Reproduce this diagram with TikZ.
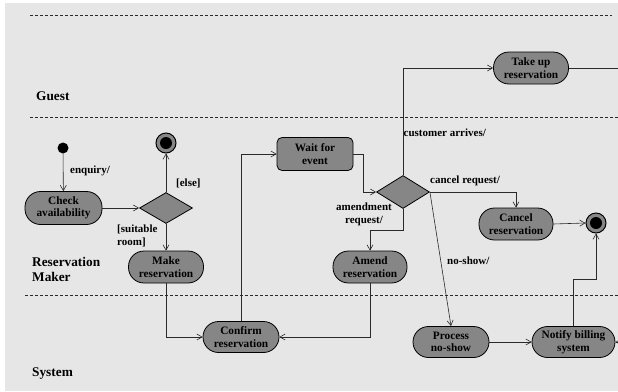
\documentclass[tikz,border=0pt]{standalone}
\usepackage{fontspec}
\setmainfont{Liberation Serif}
\usetikzlibrary{shapes.geometric,arrows.meta}
\definecolor{page}{HTML}{E6E6E6}
\definecolor{act}{HTML}{868686}
\definecolor{ink}{HTML}{2A2A2A}
\tikzset{
  activity/.style={draw=black, line width=0.8pt, fill=act, rounded corners=15.5pt,
    minimum width=75pt, minimum height=32pt, inner sep=0pt, align=center,
    font=\fontsize{11.3}{12.5}\selectfont\bfseries},
  waitbox/.style={activity, rounded corners=5pt},
  choice/.style={draw=black, line width=0.8pt, fill=act, diamond, inner sep=0pt,
    minimum width=53pt, minimum height=31pt},
  startdot/.style={circle, fill=black, minimum size=11pt, inner sep=0pt},
  enddot/.style={circle, draw=black, line width=1pt, fill=act, minimum size=20pt, inner sep=0pt,
    path picture={\fill[black] (path picture bounding box.center) circle (6pt);}},
  flow/.style={draw=ink, line width=0.6pt, -{Straight Barb[angle=60:6pt]}},
  plainflow/.style={draw=ink, line width=0.6pt},
  guard/.style={font=\fontsize{11}{13}\selectfont\bfseries, inner sep=0pt},
  lane/.style={font=\fontsize{13.3}{15}\selectfont\bfseries, inner sep=0pt, align=left, anchor=west},
  swimline/.style={draw=ink, line width=0.6pt, dash pattern=on 3pt off 2pt}
}
\begin{document}
\begin{tikzpicture}[x=1pt,y=-1pt]
  % page
  \useasboundingbox (0,0) rectangle (618,391);
  \fill[white] (0,0) rectangle (618,391);
  \fill[page] (5,3) rectangle (618,391);
  \clip (0,0) rectangle (618,391);

  % swimlane separators
  \draw[swimline] (30,15) -- (612,15);
  \draw[swimline] (30,117) -- (618,117);
  \draw[swimline] (25,295) -- (618,295);

  % swimlane names
  \node[lane] (laneguest) at (36,96) {Guest};
  \node[lane] (lanemaker) at (32,269.5) {Reservation\\Maker};
  \node[lane] (lanesystem) at (32,374) {System};

  % activities
  \node[startdot] (start) at (63,148) {};
  \node[activity, minimum width=77pt, minimum height=33pt] (check) at (63.5,208) {Check\\availability};
  \node[choice] (d1) at (166,208) {};
  \node[enddot] (fin1) at (166,143) {};
  \node[activity] (make) at (166,267) {Make\\reservation};
  \node[activity, minimum width=76pt, minimum height=31pt] (confirm) at (241,337) {Confirm\\reservation};
  \node[waitbox, minimum width=76pt, minimum height=33pt] (wait) at (315,154) {Wait for\\event};
  \node[choice, minimum height=33pt] (d2) at (403,192) {};
  \node[activity] (takeup) at (531,68) {Take up\\reservation};
  \node[activity, minimum width=74pt] (cancel) at (516,224) {Cancel\\reservation};
  \node[enddot] (fin2) at (596,223) {};
  \node[activity, minimum width=74pt] (amend) at (370,267) {Amend\\reservation};
  \node[activity, minimum width=76pt, minimum height=31pt] (process) at (451,342) {Process\\no-show};
  \node[activity, minimum width=83pt, minimum height=31pt] (notify) at (573.5,342) {Notify billing\\system};

  % connectors running off the page
  \coordinate (offtop) at (630,68);
  \coordinate (offbottom) at (630,342);

  % flows
  \draw[flow] (start) -- (check);
  \draw[flow] (check) -- (d1.west);
  \draw[flow] (d1.north) -- (fin1);
  \draw[flow] (d1.south) -- (make.north);
  \draw[flow] (make.south) |- (confirm.west);
  \draw[flow] (confirm.north) |- (wait.west);
  \draw[flow] (wait.east) -- ++(10,0) |- (d2.west);
  \draw[flow] (d2.north) |- (takeup.west);
  \draw[plainflow] (takeup.east) -- (offtop);
  \draw[flow] (d2.east) -| (cancel.north);
  \draw[flow] (cancel.east) -- (fin2.west);
  \draw[flow] (d2.south) -- ++(0,21) -| (amend.north);
  \draw[flow] (amend.south) |- (confirm.east);
  \draw[flow] (d2.east) -- (process.north);
  \draw[flow] (process.east) -- (notify.west);
  \draw[flow] (notify.north) -- ++(0,-47) -| (fin2.south);
  \draw[flow] (offbottom) -- (notify.east);

  % guards and events
  \node[guard, anchor=west] (genq) at (70,171) {enquiry/};
  \node[guard, anchor=west] (gelse) at (176,183) {[else]};
  \node[guard, anchor=west, align=left] (gsuit) at (117,236) {[suitable\\room]};
  \node[guard, anchor=west] (garr) at (403.5,133) {customer arrives/};
  \node[guard, anchor=west] (gcan) at (430,181) {cancel request/};
  \node[guard, align=center] (gamd) at (364,214.5) {amendment\\request/};
  \node[guard, anchor=west] (gns) at (447,261) {no-show/};
\end{tikzpicture}
\end{document}
